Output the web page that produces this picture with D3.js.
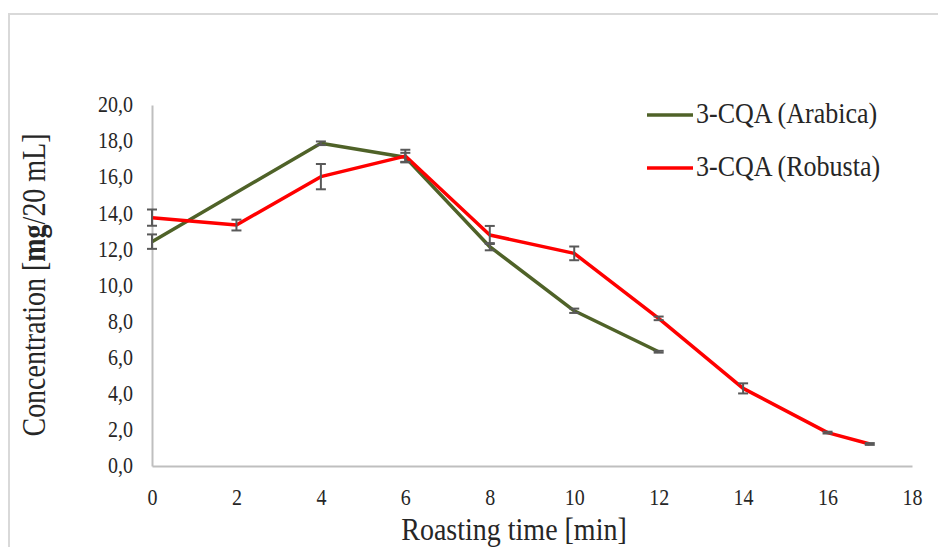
<!DOCTYPE html>
<html>
<head>
<meta charset="utf-8">
<script src="https://d3js.org/d3.v7.min.js"></script>
<style>
  body { margin: 0; background: #fff; }
  svg text { font-family: "Times New Roman", "Liberation Serif", "DejaVu Serif", serif; fill: #262626; }
</style>
</head>
<body>
<svg width="938" height="547"></svg>
<script>
var xTicks = [0, 2, 4, 6, 8, 10, 12, 14, 16, 18];
var yTicks = [0, 2, 4, 6, 8, 10, 12, 14, 16, 18, 20];

var arabicaTime = [0, 4, 6, 8, 10, 12];
var arabicaValue = [12.43, 17.88, 17.1, 12.15, 8.6, 6.33];
var arabicaError = [0.4, 0.1, 0.25, 0.2, 0.12, 0.05];

var robustaTime = [0, 2, 4, 6, 8, 10, 12, 14, 16, 17];
var robustaValue = [13.76, 13.35, 16.03, 17.17, 12.8, 11.78, 8.18, 4.3, 1.85, 1.22];
var robustaError = [0.45, 0.3, 0.7, 0.35, 0.5, 0.38, 0.1, 0.28, 0.05, 0.05];

var seriesNames = ['3-CQA (Arabica)', '3-CQA (Robusta)'];

var serif = '"Times New Roman", "Liberation Serif", "DejaVu Serif", serif';
var stretch = 1.2;   // the source picture's lettering is a bit taller than wide

var svg = d3.select('svg');
var svgWidth = +svg.attr('width');
var svgHeight = +svg.attr('height');

var padding = {t: 105, r: 26, b: 81, l: 152};
var chartWidth = svgWidth - padding.l - padding.r;
var chartHeight = svgHeight - padding.t - padding.b;

// outer frame of the chart area (runs past the right and bottom edges)
svg.append('rect')
    .attr('x', 9).attr('y', 14)
    .attr('width', 940).attr('height', 540)
    .attr('fill', 'none')
    .attr('stroke', '#d9d9d9')
    .attr('stroke-width', 2);

var chartG = svg.append('g')
    .attr('transform', 'translate(' + [padding.l, padding.t] + ')');

var xScale = d3.scaleLinear().domain([0, 18]).range([0, chartWidth]);
var yScale = d3.scaleLinear().domain([0, 20]).range([chartHeight, 0]);

var xAxis = d3.axisBottom(xScale).tickValues(xTicks).tickSize(0).tickPadding(22)
    .tickFormat(d3.format('d'));
var yAxis = d3.axisLeft(yScale).tickValues(yTicks).tickSize(0).tickPadding(19)
    .tickFormat(function(d) { return d3.format('.1f')(d).replace('.', ','); });

var xG = chartG.append('g')
    .attr('class', 'x-axis')
    .attr('transform', 'translate(0,' + chartHeight + ')')
    .call(xAxis);
var yG = chartG.append('g')
    .attr('class', 'y-axis')
    .call(yAxis);

[xG, yG].forEach(function(g) {
  g.attr('font-family', serif).attr('font-size', 20);
  g.select('.domain').attr('stroke', '#bfbfbf').attr('stroke-width', 2);
  g.selectAll('text')
      .style('font-family', serif)
      .style('font-size', '20px')
      .attr('fill', '#262626');
});
xG.selectAll('text')
    .attr('transform', 'scale(1,' + stretch + ')')
    .attr('y', 22 / stretch);
yG.selectAll('text')
    .attr('transform', 'scale(1,' + stretch + ')')
    .attr('dy', '0.28em');

var series = [
  {name: seriesNames[0], color: '#4f6228', time: arabicaTime, value: arabicaValue, error: arabicaError},
  {name: seriesNames[1], color: '#ff0000', time: robustaTime, value: robustaValue, error: robustaError}
];

var line = d3.line()
    .x(function(d) { return xScale(d.t); })
    .y(function(d) { return yScale(d.v); });

series.forEach(function(s) {
  var pts = s.time.map(function(t, i) { return {t: t, v: s.value[i], e: s.error[i]}; });
  s.points = pts;
  chartG.append('path')
      .datum(pts)
      .attr('fill', 'none')
      .attr('stroke', s.color)
      .attr('stroke-width', 3.5)
      .attr('stroke-linejoin', 'round')
      .attr('d', line);
});

// error bars on top of the lines
series.forEach(function(s) {
  var eb = chartG.append('g').selectAll('g')
      .data(s.points)
      .enter().append('g')
      .attr('stroke', '#595959')
      .attr('stroke-width', 2);
  eb.append('line')
      .attr('x1', function(d) { return xScale(d.t); })
      .attr('x2', function(d) { return xScale(d.t); })
      .attr('y1', function(d) { return yScale(d.v + d.e); })
      .attr('y2', function(d) { return yScale(d.v - d.e); });
  [1, -1].forEach(function(sign) {
    eb.append('line')
        .attr('x1', function(d) { return xScale(d.t) - 5; })
        .attr('x2', function(d) { return xScale(d.t) + 5; })
        .attr('y1', function(d) { return yScale(d.v + sign * d.e); })
        .attr('y2', function(d) { return yScale(d.v + sign * d.e); });
  });
});

// legend
var legend = svg.append('g').attr('transform', 'translate(647,115)');
series.forEach(function(s, i) {
  var row = legend.append('g').attr('transform', 'translate(0,' + i * 53 + ')');
  row.append('line')
      .attr('x1', 0).attr('x2', 46)
      .attr('stroke', s.color).attr('stroke-width', 3.5);
  row.append('text')
      .attr('transform', 'translate(49,8) scale(1,1.1)')
      .style('font-family', serif)
      .style('font-size', '26px')
      .text(s.name);
});

// axis titles
svg.append('text')
    .attr('class', 'x-label')
    .attr('transform', 'translate(514,540) scale(1,1.1)')
    .attr('text-anchor', 'middle')
    .style('font-family', serif)
    .style('font-size', '28px')
    .text('Roasting time [min]');

var yLabel = svg.append('text')
    .attr('class', 'y-label')
    .attr('transform', 'translate(45,285) rotate(-90) scale(1,' + stretch + ')')
    .attr('text-anchor', 'middle')
    .style('font-family', serif)
    .style('font-size', '28px');
yLabel.append('tspan').text('Concentration [');
yLabel.append('tspan').style('font-weight', 'bold').text('mg');
yLabel.append('tspan').text('/20 mL]');
</script>
</body>
</html>
